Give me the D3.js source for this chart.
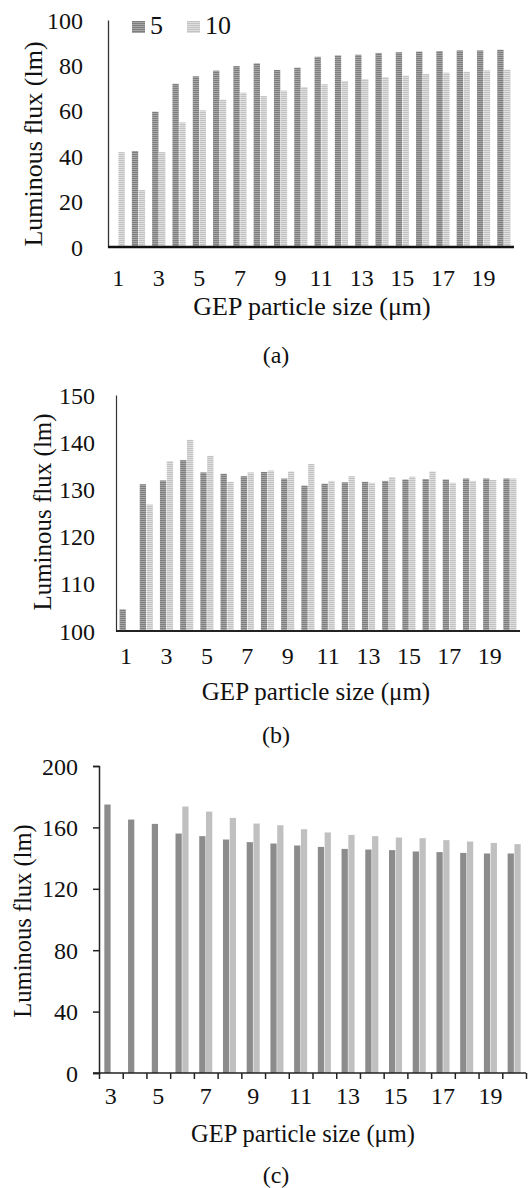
<!DOCTYPE html>
<html>
<head>
<meta charset="utf-8">
<script src="https://cdn.jsdelivr.net/npm/d3@7"></script>
<style>
  body { margin: 0; background: #fff; }
  svg { display: block; }
</style>
</head>
<body>
<div class="chart"></div>
<script>
// data
const sizesAB = [1, 2, 3, 4, 5, 6, 7, 8, 9, 10, 11, 12, 13, 14, 15, 16, 17, 18, 19, 20]
const sizesC = [3, 4, 5, 6, 7, 8, 9, 10, 11, 12, 13, 14, 15, 16, 17, 18, 19, 20]
const seriesNames = ['5', '10']

const fluxA5 = [0, 42.3, 59.6, 71.9, 75.2, 77.7, 79.7, 80.9, 78.0, 79.0, 83.8, 84.4, 84.7, 85.5, 85.8, 86.1, 86.3, 86.6, 86.6, 86.9]
const fluxA10 = [41.8, 25.1, 41.8, 54.9, 60.2, 64.9, 68.0, 66.5, 68.9, 70.5, 71.7, 73.1, 74.0, 74.9, 75.5, 76.2, 76.8, 77.2, 77.8, 78.1]

const fluxB5 = [104.6, 131.1, 131.9, 136.2, 133.6, 133.3, 132.8, 133.7, 132.3, 130.8, 131.2, 131.5, 131.6, 131.8, 132.1, 132.2, 132.1, 132.3, 132.3, 132.3]
const fluxB10 = [null, 126.8, 136.0, 140.5, 137.1, 131.6, 133.6, 134.0, 133.8, 135.4, 131.8, 132.8, 131.4, 132.6, 132.7, 133.8, 131.4, 131.8, 132.0, 132.3]

const fluxC5 = [174.9, 165.1, 162.3, 156.0, 154.3, 152.1, 150.4, 149.5, 148.2, 147.3, 146.0, 145.6, 145.2, 144.3, 143.9, 143.4, 143.0, 143.0]
const fluxC10 = [null, null, null, 173.6, 170.3, 166.2, 162.5, 161.4, 158.8, 156.7, 155.1, 154.3, 153.4, 153.0, 151.7, 150.8, 149.9, 149.1]

const ticksA = [0, 20, 40, 60, 80, 100]
const ticksB = [100, 110, 120, 130, 140, 150]
const ticksC = [0, 40, 80, 120, 160, 200]

const FONT = '"Liberation Serif"'

const svg = d3.select('.chart')
  .append('svg')
    .attr('width', 528)
    .attr('height', 1188)
    .attr('font-family', FONT)

// striped fills for panels (a) and (b)
const defs = svg.append('defs')
function stripes(id, c1, c2) {
  const p = defs.append('pattern')
    .attr('id', id)
    .attr('patternUnits', 'userSpaceOnUse')
    .attr('width', 4).attr('height', 2)
  p.append('rect').attr('width', 4).attr('height', 1).attr('fill', c1)
  p.append('rect').attr('y', 1).attr('width', 4).attr('height', 1).attr('fill', c2)
}
stripes('darkStripe', '#7e7e7e', '#a6a6a6')
stripes('lightStripe', '#c2c2c2', '#dedede')

function panel(cfg) {
  const g = svg.append('g')
  const n = cfg.cats.length

  const x = d3.scaleBand()
    .domain(cfg.cats)
    .range([cfg.left, cfg.right])
    .paddingInner(cfg.pad)
    .paddingOuter(cfg.pad / 2)

  const x1 = d3.scaleBand()
    .domain(seriesNames)
    .range([0, x.bandwidth()])
    .paddingInner(0.08)

  const y = d3.scaleLinear()
    .domain(cfg.domain)
    .range([cfg.bottom, cfg.top])

  const rows = cfg.cats.map((c, i) => ({cat: c, values: [cfg.s5[i], cfg.s10[i]]}))

  // bars
  g.selectAll('.grp')
    .data(rows)
    .enter()
    .append('g')
      .attr('transform', d => `translate(${x(d.cat)},0)`)
    .selectAll('rect')
    .data(d => d.values.map((v, k) => ({key: seriesNames[k], v})))
    .enter()
    .filter(d => d.v != null && d.v > cfg.domain[0])
    .append('rect')
      .attr('x', d => x1(d.key))
      .attr('width', x1.bandwidth())
      .attr('y', d => y(d.v))
      .attr('height', d => y(cfg.domain[0]) - y(d.v))
      .attr('fill', d => d.key === '5' ? cfg.c5 : cfg.c10)

  // y axis
  const yAxis = d3.axisLeft(y)
    .tickValues(cfg.yTicks)
    .tickSize(cfg.yTickSize)
    .tickPadding(cfg.yPad)
  const ya = g.append('g')
    .attr('transform', `translate(${cfg.left},0)`)
    .call(yAxis)
    .attr('font-family', FONT)
    .attr('font-size', cfg.tickFont)
  ya.select('.domain').attr('stroke', cfg.yLine).attr('stroke-width', cfg.yLineW)
  ya.selectAll('.tick line').attr('stroke', '#222').attr('stroke-width', 1.5)
  ya.selectAll('text').attr('fill', '#111').attr('dy', '0.34em')

  // x axis labels (odd categories)
  const xAxis = d3.axisBottom(x)
    .tickValues(cfg.cats.filter(c => c % 2 === 1))
    .tickSize(0)
    .tickPadding(cfg.xPad)
  const xa = g.append('g')
    .attr('transform', `translate(0,${cfg.bottom})`)
    .call(xAxis)
    .attr('font-family', FONT)
    .attr('font-size', cfg.tickFont)
  xa.select('.domain').remove()
  xa.selectAll('text').attr('fill', '#111').attr('dy', '0.71em')

  // boundary ticks for panel (c)
  if (cfg.boundTicks) {
    const xb = d3.scaleLinear().domain([0, n]).range([cfg.left, cfg.right])
    const bt = g.append('g')
      .attr('transform', `translate(0,${cfg.bottom})`)
      .call(d3.axisBottom(xb).ticks(n).tickSize(6).tickFormat(''))
    bt.select('.domain').remove()
    bt.selectAll('.tick line').attr('stroke', '#222').attr('stroke-width', 1.5)
  }

  // x axis line
  g.append('line')
    .attr('x1', cfg.left - (cfg.boundTicks ? 6 : 0)).attr('x2', cfg.right)
    .attr('y1', cfg.bottom).attr('y2', cfg.bottom)
    .attr('stroke', cfg.xLine).attr('stroke-width', cfg.xLineW)

  // titles
  g.append('text')
    .attr('transform', `translate(${cfg.yTitleX},${cfg.yTitleY}) rotate(-90)`)
    .attr('text-anchor', 'middle')
    .attr('font-family', FONT)
    .attr('font-size', cfg.titleFont)
    .attr('fill', '#111')
    .text('Luminous flux (lm)')

  g.append('text')
    .attr('x', cfg.xTitleX).attr('y', cfg.xTitleY)
    .attr('text-anchor', 'middle')
    .attr('font-family', FONT)
    .attr('font-size', cfg.titleFont)
    .attr('fill', '#111')
    .text('GEP particle size (\u03bcm)')

  g.append('text')
    .attr('x', 276).attr('y', cfg.capY)
    .attr('text-anchor', 'middle')
    .attr('font-family', FONT)
    .attr('font-size', 24)
    .attr('fill', '#111')
    .text(cfg.caption)

  return g
}

const ga = panel({
  cats: sizesAB, s5: fluxA5, s10: fluxA10, domain: [0, 100], yTicks: ticksA,
  left: 108, right: 514, top: 20, bottom: 247, pad: 0.35,
  c5: 'url(#darkStripe)', c10: 'url(#lightStripe)',
  yTickSize: 0, yPad: 25, xPad: 22, tickFont: 24,
  yLine: '#333', yLineW: 1.3, xLine: '#111', xLineW: 2.5,
  titleFont: 26, yTitleX: 42, yTitleY: 144, xTitleX: 312, xTitleY: 315,
  caption: '(a)', capY: 363
})

// legend for panel (a)
const legend = ga.append('g')
  .selectAll('g')
  .data(seriesNames)
  .enter()
  .append('g')
    .attr('transform', (d, i) => `translate(${132 + i * 55},21)`)
legend.append('rect')
  .attr('width', 13).attr('height', 12)
  .attr('fill', d => d === '5' ? 'url(#darkStripe)' : 'url(#lightStripe)')
legend.append('text')
  .attr('x', 18).attr('y', 13)
  .attr('font-family', FONT)
  .attr('font-size', 26)
  .attr('fill', '#111')
  .text(d => d)

panel({
  cats: sizesAB, s5: fluxB5, s10: fluxB10, domain: [100, 150], yTicks: ticksB,
  left: 116, right: 520, top: 395, bottom: 631, pad: 0.35,
  c5: 'url(#darkStripe)', c10: 'url(#lightStripe)',
  yTickSize: 0, yPad: 21, xPad: 16, tickFont: 24,
  yLine: '#333', yLineW: 1.2, xLine: '#222', xLineW: 2,
  titleFont: 25, yTitleX: 51, yTitleY: 512, xTitleX: 316, xTitleY: 700,
  caption: '(b)', capY: 743
})

panel({
  cats: sizesC, s5: fluxC5, s10: fluxC10, domain: [0, 200], yTicks: ticksC,
  left: 99, right: 526, top: 766, bottom: 1073, pad: 0.45,
  c5: '#8c8c8c', c10: '#c0c0c0',
  yTickSize: 6, yPad: 15, xPad: 14, tickFont: 24,
  yLine: '#222', yLineW: 1.5, xLine: '#222', xLineW: 1.5,
  titleFont: 24.5, yTitleX: 31, yTitleY: 921, xTitleX: 303, xTitleY: 1142,
  caption: '(c)', capY: 1183, boundTicks: true
})
</script>
</body>
</html>
